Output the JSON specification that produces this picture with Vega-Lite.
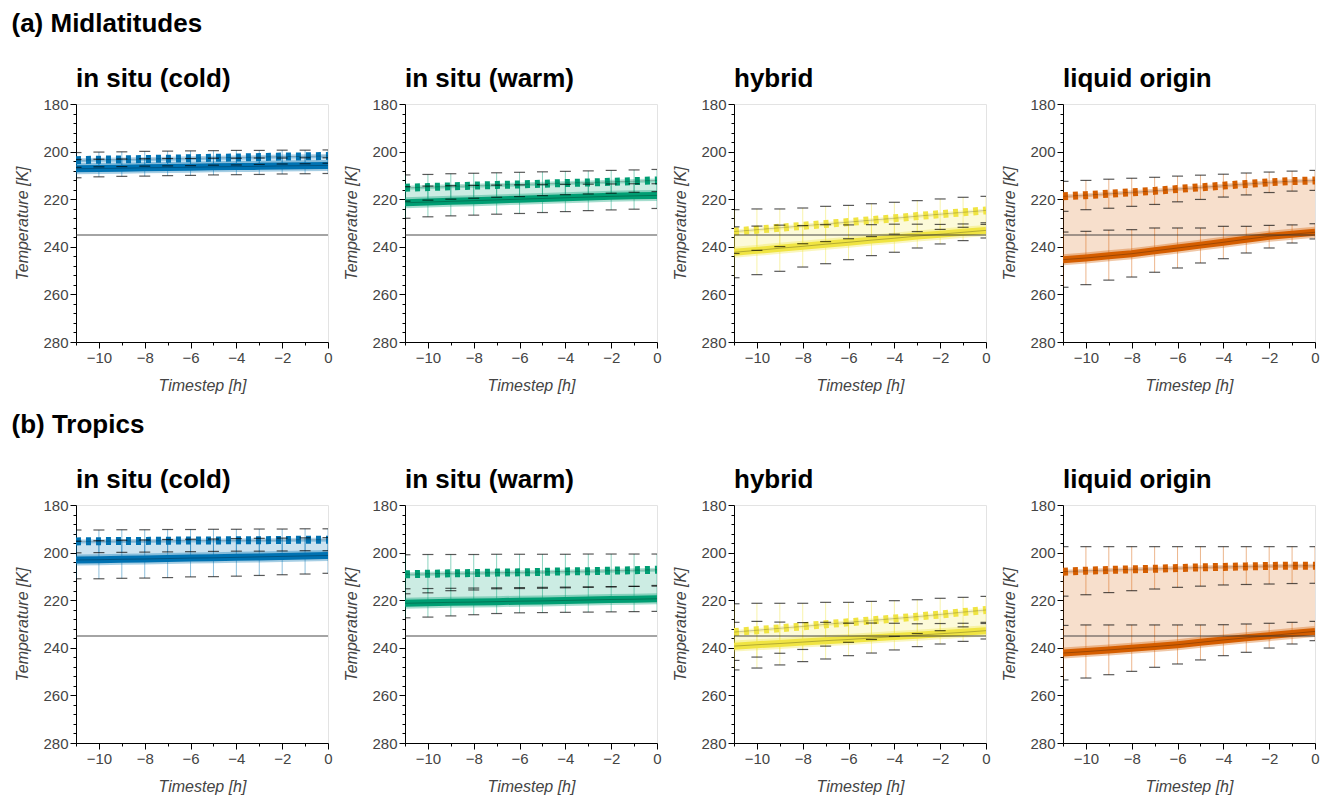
{
  "$schema": "https://vega.github.io/schema/vega-lite/v6.json",
  "background": "white",
  "padding": {"left": 11, "top": 11, "right": 5, "bottom": 5},
  "config": {
    "font": "Liberation Sans",
    "view": {"stroke": "#e3e3e3"},
    "title": {"fontSize": 26, "fontWeight": "bold", "anchor": "start", "color": "black", "font": "Liberation Sans", "dx": -3},
    "axis": {
      "domainColor": "black", "tickColor": "black", "labelColor": "#444", "titleColor": "#444",
      "labelFontSize": 15, "titleFontSize": 16, "titleFontStyle": "italic", "titleFontWeight": "normal",
      "grid": false, "labelFlush": false, "labelOverlap": false, "labelFont": "Liberation Sans", "titleFont": "Liberation Sans"
    },
    "axisX": {"titlePadding": 12},
    "axisY": {"titlePadding": 12}
  },
  "datasets": {
    "d": [
      {"r":"M","p":"in situ (cold)","t":-11,"s":207.2,"slo":203.3,"shi":211.0,"d":203.6,"dlo":200.4,"dhi":206.6},
      {"r":"M","p":"in situ (cold)","t":-10,"s":207.1,"slo":203.2,"shi":210.6,"d":203.4,"dlo":200.2,"dhi":206.4},
      {"r":"M","p":"in situ (cold)","t":-9,"s":207.0,"slo":203.1,"shi":210.4,"d":203.3,"dlo":200.1,"dhi":206.3},
      {"r":"M","p":"in situ (cold)","t":-8,"s":206.8,"slo":203.0,"shi":210.3,"d":203.1,"dlo":199.9,"dhi":206.1},
      {"r":"M","p":"in situ (cold)","t":-7,"s":206.7,"slo":202.9,"shi":210.1,"d":203.0,"dlo":199.8,"dhi":206.0},
      {"r":"M","p":"in situ (cold)","t":-6,"s":206.6,"slo":202.9,"shi":210.0,"d":202.8,"dlo":199.7,"dhi":205.9},
      {"r":"M","p":"in situ (cold)","t":-5,"s":206.4,"slo":202.8,"shi":209.8,"d":202.6,"dlo":199.6,"dhi":205.7},
      {"r":"M","p":"in situ (cold)","t":-4,"s":206.3,"slo":202.8,"shi":209.7,"d":202.5,"dlo":199.5,"dhi":205.6},
      {"r":"M","p":"in situ (cold)","t":-3,"s":206.2,"slo":202.7,"shi":209.6,"d":202.3,"dlo":199.5,"dhi":205.4},
      {"r":"M","p":"in situ (cold)","t":-2,"s":206.0,"slo":202.7,"shi":209.4,"d":202.1,"dlo":199.4,"dhi":205.2},
      {"r":"M","p":"in situ (cold)","t":-1,"s":205.9,"slo":202.6,"shi":209.3,"d":202.0,"dlo":199.4,"dhi":205.1},
      {"r":"M","p":"in situ (cold)","t":0,"s":205.8,"slo":202.6,"shi":209.2,"d":201.8,"dlo":199.3,"dhi":204.9},

      {"r":"M","p":"in situ (warm)","t":-11,"s":221.5,"slo":214.7,"shi":228.0,"d":215.2,"dlo":209.8,"dhi":220.8},
      {"r":"M","p":"in situ (warm)","t":-10,"s":221.2,"slo":214.5,"shi":227.4,"d":214.9,"dlo":209.6,"dhi":220.4},
      {"r":"M","p":"in situ (warm)","t":-9,"s":220.9,"slo":214.3,"shi":227.0,"d":214.6,"dlo":209.3,"dhi":220.0},
      {"r":"M","p":"in situ (warm)","t":-8,"s":220.6,"slo":214.2,"shi":226.7,"d":214.3,"dlo":209.1,"dhi":219.6},
      {"r":"M","p":"in situ (warm)","t":-7,"s":220.3,"slo":214.1,"shi":226.3,"d":214.0,"dlo":208.9,"dhi":219.2},
      {"r":"M","p":"in situ (warm)","t":-6,"s":220.0,"slo":214.0,"shi":226.0,"d":213.8,"dlo":208.7,"dhi":218.9},
      {"r":"M","p":"in situ (warm)","t":-5,"s":219.7,"slo":213.9,"shi":225.6,"d":213.5,"dlo":208.5,"dhi":218.5},
      {"r":"M","p":"in situ (warm)","t":-4,"s":219.4,"slo":213.8,"shi":225.2,"d":213.2,"dlo":208.3,"dhi":218.1},
      {"r":"M","p":"in situ (warm)","t":-3,"s":219.1,"slo":213.7,"shi":224.8,"d":213.0,"dlo":208.1,"dhi":217.8},
      {"r":"M","p":"in situ (warm)","t":-2,"s":218.8,"slo":213.6,"shi":224.5,"d":212.7,"dlo":207.9,"dhi":217.5},
      {"r":"M","p":"in situ (warm)","t":-1,"s":218.6,"slo":213.5,"shi":224.2,"d":212.4,"dlo":207.7,"dhi":217.1},
      {"r":"M","p":"in situ (warm)","t":0,"s":218.4,"slo":213.5,"shi":223.9,"d":212.1,"dlo":207.5,"dhi":216.8},

      {"r":"M","p":"hybrid","t":-11,"s":242.3,"slo":231.6,"shi":253.0,"d":233.6,"dlo":224.4,"dhi":242.8},
      {"r":"M","p":"hybrid","t":-10,"s":241.5,"slo":231.3,"shi":251.7,"d":232.8,"dlo":224.1,"dhi":241.5},
      {"r":"M","p":"hybrid","t":-9,"s":240.6,"slo":230.9,"shi":250.3,"d":232.0,"dlo":224.1,"dhi":239.9},
      {"r":"M","p":"hybrid","t":-8,"s":239.8,"slo":231.1,"shi":248.5,"d":231.2,"dlo":223.7,"dhi":238.7},
      {"r":"M","p":"hybrid","t":-7,"s":238.9,"slo":230.7,"shi":247.1,"d":230.4,"dlo":223.0,"dhi":237.8},
      {"r":"M","p":"hybrid","t":-6,"s":238.1,"slo":230.8,"shi":245.4,"d":229.6,"dlo":222.6,"dhi":236.6},
      {"r":"M","p":"hybrid","t":-5,"s":237.2,"slo":230.7,"shi":243.7,"d":228.8,"dlo":221.9,"dhi":235.7},
      {"r":"M","p":"hybrid","t":-4,"s":236.4,"slo":230.5,"shi":242.3,"d":228.0,"dlo":221.3,"dhi":234.7},
      {"r":"M","p":"hybrid","t":-3,"s":235.5,"slo":230.5,"shi":240.5,"d":227.1,"dlo":220.6,"dhi":233.6},
      {"r":"M","p":"hybrid","t":-2,"s":234.7,"slo":230.6,"shi":238.8,"d":226.3,"dlo":219.9,"dhi":232.7},
      {"r":"M","p":"hybrid","t":-1,"s":233.9,"slo":230.4,"shi":237.4,"d":225.5,"dlo":219.2,"dhi":231.8},
      {"r":"M","p":"hybrid","t":0,"s":233.1,"slo":229.9,"shi":236.3,"d":224.7,"dlo":218.8,"dhi":230.6},

      {"r":"M","p":"liquid origin","t":-11,"s":245.4,"slo":233.8,"shi":257.0,"d":218.8,"dlo":212.5,"dhi":225.1},
      {"r":"M","p":"liquid origin","t":-10,"s":244.7,"slo":233.5,"shi":255.9,"d":218.3,"dlo":212.1,"dhi":224.4},
      {"r":"M","p":"liquid origin","t":-9,"s":243.8,"slo":233.0,"shi":254.0,"d":217.7,"dlo":211.6,"dhi":223.8},
      {"r":"M","p":"liquid origin","t":-8,"s":242.9,"slo":232.8,"shi":252.7,"d":217.1,"dlo":211.2,"dhi":223.0},
      {"r":"M","p":"liquid origin","t":-7,"s":241.7,"slo":232.1,"shi":250.7,"d":216.5,"dlo":210.8,"dhi":222.2},
      {"r":"M","p":"liquid origin","t":-6,"s":240.5,"slo":232.1,"shi":248.9,"d":215.7,"dlo":210.3,"dhi":221.1},
      {"r":"M","p":"liquid origin","t":-5,"s":239.3,"slo":232.1,"shi":246.8,"d":215.0,"dlo":209.9,"dhi":220.1},
      {"r":"M","p":"liquid origin","t":-4,"s":238.1,"slo":231.4,"shi":245.0,"d":214.3,"dlo":209.5,"dhi":219.1},
      {"r":"M","p":"liquid origin","t":-3,"s":236.8,"slo":231.4,"shi":242.6,"d":213.6,"dlo":209.0,"dhi":218.2},
      {"r":"M","p":"liquid origin","t":-2,"s":235.6,"slo":231.0,"shi":240.5,"d":212.9,"dlo":208.6,"dhi":217.2},
      {"r":"M","p":"liquid origin","t":-1,"s":234.7,"slo":230.8,"shi":238.4,"d":212.4,"dlo":208.2,"dhi":216.6},
      {"r":"M","p":"liquid origin","t":0,"s":233.9,"slo":230.3,"shi":236.7,"d":212.1,"dlo":207.9,"dhi":216.3},

      {"r":"T","p":"in situ (cold)","t":-11,"s":203.1,"slo":195.2,"shi":211.0,"d":195.3,"dlo":190.5,"dhi":200.1},
      {"r":"T","p":"in situ (cold)","t":-10,"s":203.0,"slo":195.0,"shi":211.0,"d":195.2,"dlo":190.5,"dhi":200.0},
      {"r":"T","p":"in situ (cold)","t":-9,"s":202.8,"slo":194.8,"shi":210.8,"d":195.1,"dlo":190.4,"dhi":199.9},
      {"r":"T","p":"in situ (cold)","t":-8,"s":202.7,"slo":194.7,"shi":210.7,"d":195.1,"dlo":190.4,"dhi":199.8},
      {"r":"T","p":"in situ (cold)","t":-7,"s":202.5,"slo":194.5,"shi":210.5,"d":195.0,"dlo":190.3,"dhi":199.7},
      {"r":"T","p":"in situ (cold)","t":-6,"s":202.3,"slo":194.4,"shi":210.2,"d":194.9,"dlo":190.3,"dhi":199.6},
      {"r":"T","p":"in situ (cold)","t":-5,"s":202.2,"slo":194.3,"shi":210.1,"d":194.9,"dlo":190.2,"dhi":199.5},
      {"r":"T","p":"in situ (cold)","t":-4,"s":202.0,"slo":194.1,"shi":209.9,"d":194.8,"dlo":190.2,"dhi":199.4},
      {"r":"T","p":"in situ (cold)","t":-3,"s":201.8,"slo":194.0,"shi":209.6,"d":194.8,"dlo":190.1,"dhi":199.4},
      {"r":"T","p":"in situ (cold)","t":-2,"s":201.6,"slo":193.9,"shi":209.3,"d":194.7,"dlo":190.1,"dhi":199.3},
      {"r":"T","p":"in situ (cold)","t":-1,"s":201.4,"slo":193.8,"shi":209.0,"d":194.6,"dlo":190.0,"dhi":199.2},
      {"r":"T","p":"in situ (cold)","t":0,"s":201.2,"slo":193.7,"shi":208.7,"d":194.6,"dlo":190.0,"dhi":199.2},

      {"r":"T","p":"in situ (warm)","t":-11,"s":221.3,"slo":215.2,"shi":227.4,"d":209.1,"dlo":200.9,"dhi":217.3},
      {"r":"T","p":"in situ (warm)","t":-10,"s":221.1,"slo":215.1,"shi":227.1,"d":208.9,"dlo":200.8,"dhi":216.9},
      {"r":"T","p":"in situ (warm)","t":-9,"s":220.9,"slo":215.0,"shi":226.6,"d":208.7,"dlo":200.8,"dhi":216.0},
      {"r":"T","p":"in situ (warm)","t":-8,"s":220.8,"slo":214.9,"shi":226.1,"d":208.6,"dlo":200.8,"dhi":215.7},
      {"r":"T","p":"in situ (warm)","t":-7,"s":220.6,"slo":214.8,"shi":225.6,"d":208.4,"dlo":200.7,"dhi":215.2},
      {"r":"T","p":"in situ (warm)","t":-6,"s":220.4,"slo":214.7,"shi":225.3,"d":208.3,"dlo":200.7,"dhi":215.1},
      {"r":"T","p":"in situ (warm)","t":-5,"s":220.3,"slo":214.6,"shi":225.2,"d":208.1,"dlo":200.7,"dhi":215.0},
      {"r":"T","p":"in situ (warm)","t":-4,"s":220.1,"slo":214.5,"shi":225.1,"d":207.9,"dlo":200.7,"dhi":214.8},
      {"r":"T","p":"in situ (warm)","t":-3,"s":219.9,"slo":214.4,"shi":225.0,"d":207.8,"dlo":200.6,"dhi":214.6},
      {"r":"T","p":"in situ (warm)","t":-2,"s":219.7,"slo":214.3,"shi":224.9,"d":207.6,"dlo":200.6,"dhi":214.4},
      {"r":"T","p":"in situ (warm)","t":-1,"s":219.6,"slo":214.2,"shi":224.8,"d":207.4,"dlo":200.6,"dhi":214.2},
      {"r":"T","p":"in situ (warm)","t":0,"s":219.4,"slo":214.1,"shi":224.7,"d":207.2,"dlo":200.6,"dhi":213.8},

      {"r":"T","p":"hybrid","t":-11,"s":239.3,"slo":229.3,"shi":249.3,"d":233.4,"dlo":221.5,"dhi":245.3},
      {"r":"T","p":"hybrid","t":-10,"s":238.7,"slo":228.9,"shi":248.5,"d":232.6,"dlo":221.3,"dhi":243.9},
      {"r":"T","p":"hybrid","t":-9,"s":238.2,"slo":229.2,"shi":247.2,"d":231.8,"dlo":221.3,"dhi":242.3},
      {"r":"T","p":"hybrid","t":-8,"s":237.6,"slo":229.4,"shi":245.8,"d":231.0,"dlo":221.3,"dhi":240.7},
      {"r":"T","p":"hybrid","t":-7,"s":237.0,"slo":229.3,"shi":244.7,"d":230.1,"dlo":220.9,"dhi":239.3},
      {"r":"T","p":"hybrid","t":-6,"s":236.5,"slo":229.7,"shi":243.3,"d":229.3,"dlo":220.9,"dhi":237.7},
      {"r":"T","p":"hybrid","t":-5,"s":235.9,"slo":229.6,"shi":242.2,"d":228.5,"dlo":220.5,"dhi":236.5},
      {"r":"T","p":"hybrid","t":-4,"s":235.3,"slo":229.7,"shi":240.9,"d":227.7,"dlo":220.2,"dhi":235.2},
      {"r":"T","p":"hybrid","t":-3,"s":234.7,"slo":229.9,"shi":239.5,"d":226.9,"dlo":219.8,"dhi":234.0},
      {"r":"T","p":"hybrid","t":-2,"s":234.1,"slo":229.8,"shi":238.4,"d":226.0,"dlo":219.2,"dhi":232.8},
      {"r":"T","p":"hybrid","t":-1,"s":233.5,"slo":229.7,"shi":237.3,"d":225.0,"dlo":218.8,"dhi":231.2},
      {"r":"T","p":"hybrid","t":0,"s":232.8,"slo":229.3,"shi":236.3,"d":224.1,"dlo":218.4,"dhi":229.8},

      {"r":"T","p":"liquid origin","t":-11,"s":242.2,"slo":230.6,"shi":253.5,"d":208.0,"dlo":197.5,"dhi":218.3},
      {"r":"T","p":"liquid origin","t":-10,"s":241.6,"slo":230.4,"shi":252.7,"d":207.6,"dlo":197.5,"dhi":217.7},
      {"r":"T","p":"liquid origin","t":-9,"s":240.9,"slo":230.4,"shi":251.3,"d":207.3,"dlo":197.5,"dhi":216.8},
      {"r":"T","p":"liquid origin","t":-8,"s":240.2,"slo":230.4,"shi":249.9,"d":207.0,"dlo":197.5,"dhi":216.0},
      {"r":"T","p":"liquid origin","t":-7,"s":239.5,"slo":230.4,"shi":248.2,"d":206.8,"dlo":197.5,"dhi":215.3},
      {"r":"T","p":"liquid origin","t":-6,"s":238.7,"slo":230.4,"shi":246.8,"d":206.5,"dlo":197.5,"dhi":214.6},
      {"r":"T","p":"liquid origin","t":-5,"s":237.7,"slo":230.4,"shi":245.1,"d":206.2,"dlo":197.5,"dhi":214.1},
      {"r":"T","p":"liquid origin","t":-4,"s":236.7,"slo":230.3,"shi":243.3,"d":206.0,"dlo":197.5,"dhi":213.6},
      {"r":"T","p":"liquid origin","t":-3,"s":235.8,"slo":230.0,"shi":241.9,"d":205.8,"dlo":197.5,"dhi":213.4},
      {"r":"T","p":"liquid origin","t":-2,"s":234.9,"slo":229.7,"shi":240.1,"d":205.6,"dlo":197.5,"dhi":213.2},
      {"r":"T","p":"liquid origin","t":-1,"s":234.0,"slo":229.3,"shi":238.4,"d":205.5,"dlo":197.5,"dhi":213.0},
      {"r":"T","p":"liquid origin","t":0,"s":233.1,"slo":228.9,"shi":237.0,"d":205.5,"dlo":197.5,"dhi":212.9}
    ]
  },
  "spacing": 18,
  "vconcat": [
    {
      "title": {"text": "(a) Midlatitudes", "offset": 29},
      "data": {"name": "d"},
      "transform": [{"filter": "datum.r === 'M'"}],
      "facet": {"column": {"field": "p", "type": "nominal", "sort": ["in situ (cold)", "in situ (warm)", "hybrid", "liquid origin"],
        "header": {"title": null, "labelFontSize": 26, "labelFontWeight": "bold", "labelColor": "black", "labelAnchor": "start", "labelAlign": "left", "labelPadding": 12, "labelFont": "Liberation Sans"}}},
      "bounds": "flush",
      "spacing": 77,
      "resolve": {"axis": {"x": "independent", "y": "independent"}},
      "spec": {
        "width": 252, "height": 238,
        "encoding": {
          "x": {"field": "t", "type": "quantitative", "scale": {"domain": [-11, 0], "nice": false, "zero": false},
            "axis": {"title": "Timestep [h]", "format": "d", "values": [-11,-10.5,-10,-9.5,-9,-8.5,-8,-7.5,-7,-6.5,-6,-5.5,-5,-4.5,-4,-3.5,-3,-2.5,-2,-1.5,-1,-0.5,0],
              "labelExpr": "datum.value % 2 === 0 ? datum.label : ''",
              "tickSize": {"condition": {"test": "datum.value % 2 === 0", "value": 6}, "value": 3}}},
          "y": {"field": "s", "type": "quantitative", "scale": {"domain": [180, 280], "reverse": true, "nice": false, "zero": false},
            "axis": {"title": "Temperature [K]", "values": [180,184,188,192,196,200,204,208,212,216,220,224,228,232,236,240,244,248,252,256,260,264,268,272,276,280],
              "labelExpr": "datum.value % 20 === 0 ? datum.label : ''",
              "tickSize": {"condition": {"test": "datum.value % 20 === 0", "value": 6}, "value": 3}}},
          "color": {"field": "p", "type": "nominal", "legend": null,
            "scale": {"domain": ["in situ (cold)", "in situ (warm)", "hybrid", "liquid origin"], "range": ["#0072B2", "#009E73", "#F0E442", "#D55E00"]}}
        },
        "layer": [
          {"mark": {"type": "area", "opacity": 0.2, "clip": true},
           "encoding": {"y2": {"field": "d"}}},
          {"mark": {"type": "rule", "opacity": 0.45, "strokeWidth": 1, "clip": true},
           "encoding": {"y": {"field": "slo", "type": "quantitative"}, "y2": {"field": "shi"}}},
          {"mark": {"type": "rule", "opacity": 0.45, "strokeWidth": 1, "clip": true},
           "encoding": {"y": {"field": "dlo", "type": "quantitative"}, "y2": {"field": "dhi"}}},
          {"mark": {"type": "line", "strokeWidth": 11, "opacity": 0.35, "clip": true}},
          {"mark": {"type": "line", "strokeWidth": 7, "clip": true}},
          {"mark": {"type": "line", "strokeWidth": 1, "opacity": 0.25, "clip": true},
           "encoding": {"color": {"value": "black"}}},
          {"mark": {"type": "line", "strokeWidth": 4, "opacity": 0.3, "clip": true},
           "encoding": {"y": {"field": "d", "type": "quantitative"}}},
          {"mark": {"type": "line", "strokeWidth": 8, "strokeDash": [5, 5], "clip": true},
           "encoding": {"y": {"field": "d", "type": "quantitative"}}},
          {"mark": {"type": "line", "strokeWidth": 1, "opacity": 0.2, "clip": true},
           "encoding": {"y": {"field": "d", "type": "quantitative"}, "color": {"value": "black"}}},
          {"transform": [{"fold": ["slo", "shi", "dlo", "dhi"], "as": ["k", "v"]}],
           "mark": {"type": "tick", "orient": "horizontal", "size": 11, "thickness": 1.2, "opacity": 0.65, "clip": true},
           "encoding": {"y": {"field": "v", "type": "quantitative"}, "color": {"value": "black"}}},
          {"transform": [{"filter": "datum.t === 0"}],
           "mark": {"type": "rule", "strokeWidth": 1.5, "opacity": 0.6, "clip": true},
           "encoding": {"y": {"datum": 235}, "x": null, "color": {"value": "#333"}}}
        ]
      }
    },
    {
      "title": {"text": "(b) Tropics", "offset": 29},
      "data": {"name": "d"},
      "transform": [{"filter": "datum.r === 'T'"}],
      "facet": {"column": {"field": "p", "type": "nominal", "sort": ["in situ (cold)", "in situ (warm)", "hybrid", "liquid origin"],
        "header": {"title": null, "labelFontSize": 26, "labelFontWeight": "bold", "labelColor": "black", "labelAnchor": "start", "labelAlign": "left", "labelPadding": 12, "labelFont": "Liberation Sans"}}},
      "bounds": "flush",
      "spacing": 77,
      "resolve": {"axis": {"x": "independent", "y": "independent"}},
      "spec": {
        "width": 252, "height": 238,
        "encoding": {
          "x": {"field": "t", "type": "quantitative", "scale": {"domain": [-11, 0], "nice": false, "zero": false},
            "axis": {"title": "Timestep [h]", "format": "d", "values": [-11,-10.5,-10,-9.5,-9,-8.5,-8,-7.5,-7,-6.5,-6,-5.5,-5,-4.5,-4,-3.5,-3,-2.5,-2,-1.5,-1,-0.5,0],
              "labelExpr": "datum.value % 2 === 0 ? datum.label : ''",
              "tickSize": {"condition": {"test": "datum.value % 2 === 0", "value": 6}, "value": 3}}},
          "y": {"field": "s", "type": "quantitative", "scale": {"domain": [180, 280], "reverse": true, "nice": false, "zero": false},
            "axis": {"title": "Temperature [K]", "values": [180,184,188,192,196,200,204,208,212,216,220,224,228,232,236,240,244,248,252,256,260,264,268,272,276,280],
              "labelExpr": "datum.value % 20 === 0 ? datum.label : ''",
              "tickSize": {"condition": {"test": "datum.value % 20 === 0", "value": 6}, "value": 3}}},
          "color": {"field": "p", "type": "nominal", "legend": null,
            "scale": {"domain": ["in situ (cold)", "in situ (warm)", "hybrid", "liquid origin"], "range": ["#0072B2", "#009E73", "#F0E442", "#D55E00"]}}
        },
        "layer": [
          {"mark": {"type": "area", "opacity": 0.2, "clip": true},
           "encoding": {"y2": {"field": "d"}}},
          {"mark": {"type": "rule", "opacity": 0.45, "strokeWidth": 1, "clip": true},
           "encoding": {"y": {"field": "slo", "type": "quantitative"}, "y2": {"field": "shi"}}},
          {"mark": {"type": "rule", "opacity": 0.45, "strokeWidth": 1, "clip": true},
           "encoding": {"y": {"field": "dlo", "type": "quantitative"}, "y2": {"field": "dhi"}}},
          {"mark": {"type": "line", "strokeWidth": 11, "opacity": 0.35, "clip": true}},
          {"mark": {"type": "line", "strokeWidth": 7, "clip": true}},
          {"mark": {"type": "line", "strokeWidth": 1, "opacity": 0.25, "clip": true},
           "encoding": {"color": {"value": "black"}}},
          {"mark": {"type": "line", "strokeWidth": 4, "opacity": 0.3, "clip": true},
           "encoding": {"y": {"field": "d", "type": "quantitative"}}},
          {"mark": {"type": "line", "strokeWidth": 8, "strokeDash": [5, 5], "clip": true},
           "encoding": {"y": {"field": "d", "type": "quantitative"}}},
          {"mark": {"type": "line", "strokeWidth": 1, "opacity": 0.2, "clip": true},
           "encoding": {"y": {"field": "d", "type": "quantitative"}, "color": {"value": "black"}}},
          {"transform": [{"fold": ["slo", "shi", "dlo", "dhi"], "as": ["k", "v"]}],
           "mark": {"type": "tick", "orient": "horizontal", "size": 11, "thickness": 1.2, "opacity": 0.65, "clip": true},
           "encoding": {"y": {"field": "v", "type": "quantitative"}, "color": {"value": "black"}}},
          {"transform": [{"filter": "datum.t === 0"}],
           "mark": {"type": "rule", "strokeWidth": 1.5, "opacity": 0.6, "clip": true},
           "encoding": {"y": {"datum": 235}, "x": null, "color": {"value": "#333"}}}
        ]
      }
    }
  ]
}
